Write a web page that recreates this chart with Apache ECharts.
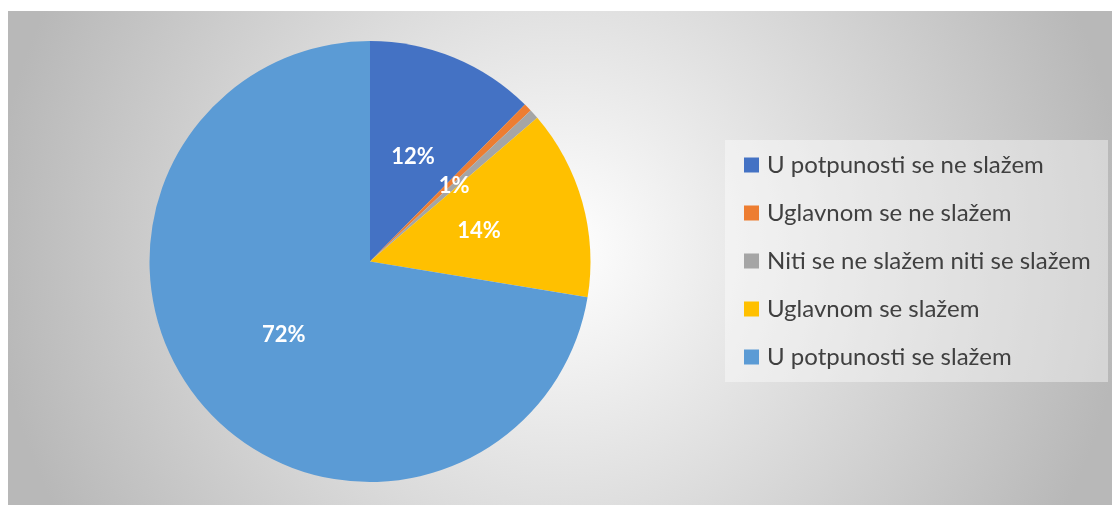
<!DOCTYPE html>
<html>
<head>
<meta charset="utf-8">
<script src="https://cdn.jsdelivr.net/npm/echarts@6/dist/echarts.min.js"></script>
<style>
html,body{margin:0;padding:0;background:#fff;}
#chart{width:1112px;height:505px;}
</style>
</head>
<body>
<div id="chart"></div>
<script>
const categories = ['U potpunosti se ne slažem','Uglavnom se ne slažem','Niti se ne slažem niti se slažem','Uglavnom se slažem','U potpunosti se slažem'];
const values = [12.4, 0.6, 0.7, 13.9, 72.4];
const colors = ['#4472C4','#ED7D31','#A5A5A5','#FFC000','#5B9BD5'];

const chart = echarts.init(document.getElementById('chart'), null, {renderer:'canvas'});
chart.setOption({
  animation:false,
  graphic:[
    {type:'rect', z:-10, shape:{x:8,y:11,width:1104,height:494},
     style:{fill:new echarts.graphic.RadialGradient(0.5,0.48,1.15,[
       {offset:0,color:'#ffffff'},{offset:1,color:'#b8b8b8'}])}},
    {type:'rect', z:-5, shape:{x:725,y:140,width:383,height:242},
     style:{fill:'rgba(255,255,255,0.4)'}}
  ],
  legend:{
    orient:'vertical', left:744, top:153, padding:0,
    icon:'rect', itemWidth:15, itemHeight:15, itemGap:24,
    textStyle:{fontFamily:'Lato', fontSize:24, color:'#404040', lineHeight:24, padding:[0,0,0,3]},
    data:categories
  },
  series:[{
    type:'pie', center:[370,261.5], radius:220.5, startAngle:90, clockwise:true,
    avoidLabelOverlap:false,
    label:{show:true, position:'inside', formatter:p=>Math.round(p.value)+'%',
      color:'#fff', fontFamily:'Lato', fontWeight:'bold', fontSize:22},
    labelLine:{show:false},
    itemStyle:{borderWidth:0},
    emphasis:{disabled:true},
    data:categories.map((c,i)=>({name:c,value:values[i],itemStyle:{color:colors[i]}}))
  }]
});
</script>
</body>
</html>
